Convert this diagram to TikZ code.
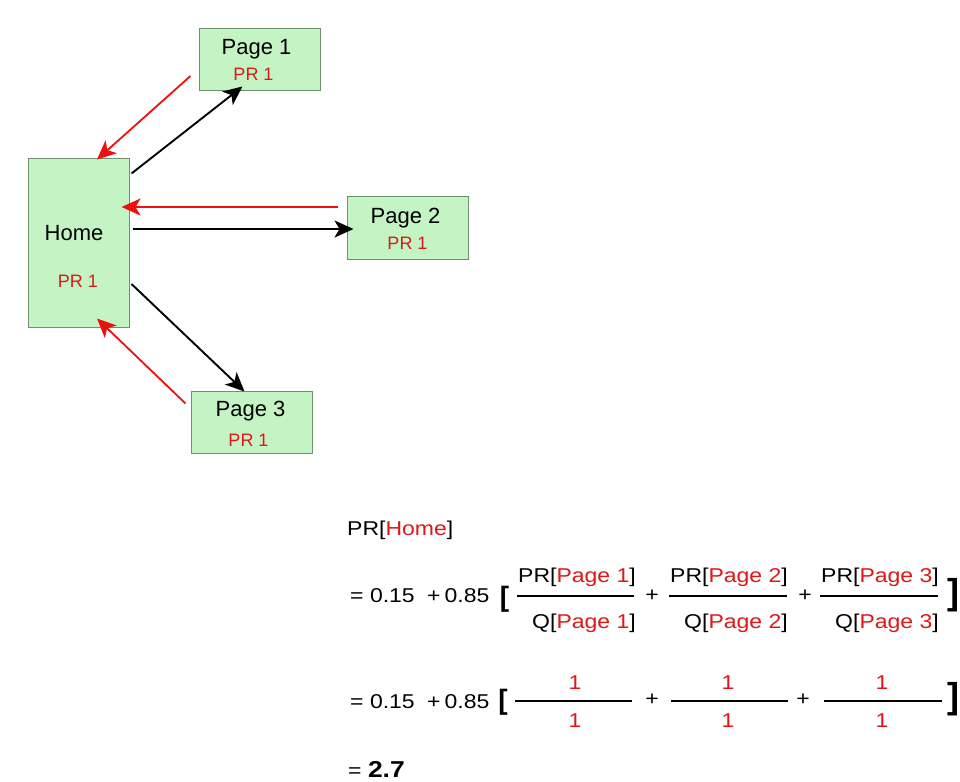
\documentclass[tikz,border=0pt]{standalone}
\usepackage{fontspec}
\setmainfont{Liberation Sans}
\newfontfamily\formfont[FakeStretch=1.15]{Liberation Sans}
\usetikzlibrary{arrows.meta,calc}
\definecolor{boxfill}{RGB}{196,244,196}
\definecolor{boxdraw}{RGB}{112,144,112}
\definecolor{prred}{RGB}{222,24,24}
\definecolor{arrred}{RGB}{238,16,16}
\begin{document}
\begin{tikzpicture}[x=1pt,y=-1pt,
  pagebox/.style={draw=boxdraw, fill=boxfill, line width=1pt, inner sep=0pt},
  lbl/.style={font=\fontsize{22}{26}\selectfont, inner sep=0pt, anchor=base},
  prlbl/.style={font=\fontsize{18}{21}\selectfont, text=prred, inner sep=0pt, anchor=base},
  blkarrow/.style={line width=1.9pt, black, -{Stealth[length=19pt,width=17pt,inset=5pt]}},
  redarrow/.style={line width=1.8pt, arrred, -{Stealth[length=19pt,width=17pt,inset=5pt]}},
  ftxt/.style={font=\formfont\fontsize{20}{24}\selectfont, inner sep=0pt},
  lbrk/.style={font=\bfseries\fontsize{28}{30}\selectfont, inner sep=0pt},
  rbrk/.style={font=\bfseries\fontsize{36}{38}\selectfont, inner sep=0pt},
  fbar/.style={line width=1.6pt, black},
]
\fill[white] (0,0) rectangle (960,781);
\useasboundingbox (0,0) rectangle (960,781);

% boxes
\node[pagebox, minimum width=121pt, minimum height=62pt] (p1) at (259.5,60) {};
\node[pagebox, minimum width=101pt, minimum height=169pt] (home) at (78.5,242.5) {};
\node[pagebox, minimum width=121pt, minimum height=63pt] (p2) at (407.5,227.5) {};
\node[pagebox, minimum width=121pt, minimum height=62pt] (p3) at (251.5,422) {};

% box texts
\node[lbl] (p1t) at (256.5,55) {Page 1};
\node[prlbl] (p1pr) at (253.5,80.7) {PR 1};
\node[lbl] (homet) at (74,240.7) {Home};
\node[prlbl] (homepr) at (78,287) {PR 1};
\node[lbl] (p2t) at (405.5,223) {Page 2};
\node[prlbl] (p2pr) at (407.5,249) {PR 1};
\node[lbl] (p3t) at (250.5,416) {Page 3};
\node[prlbl] (p3pr) at (248.5,446) {PR 1};

% arrows
\draw[redarrow] ($(p1.west)+(-8,16)$) -- ($(home.north)+(18.5,2)$);
\draw[blkarrow] ($(home.north east)+(2,16)$) -- ($(p1.south west)+(44,-5)$);
\draw[redarrow] ($(p2.west)+(-9,-20.5)$) -- ($(home.east)+(-8,-35.5)$);
\draw[blkarrow] ($(home.east)+(3,-13.5)$) -- ($(p2.west)+(7,1.5)$);
\draw[blkarrow] ($(home.east)+(2,41.5)$) -- ($(p3.north west)+(54,1)$);
\draw[redarrow] ($(p3.north west)+(-5,13)$) -- ($(home.south)+(18.5,-9)$);

% formula
\node[ftxt, anchor=base west] (prhome) at (347,535) {PR[\textcolor{prred}{Home}]};

\node[ftxt, anchor=base west] (eqa) at (350,602) {= 0.15\hspace{6pt} +\hspace{4pt}0.85};
\node[lbrk] (lba) at (504.5,599) {[};
\node[ftxt, anchor=base east] (na1) at (636,582) {PR[\textcolor{prred}{Page 1}]};
\node[ftxt, anchor=base east] (da1) at (636,628) {Q[\textcolor{prred}{Page 1}]};
\draw[fbar] (517,596) -- (634,596);
\node[ftxt] (pa1) at (652,596) {+};
\node[ftxt, anchor=base east] (na2) at (788,582) {PR[\textcolor{prred}{Page 2}]};
\node[ftxt, anchor=base east] (da2) at (788,628) {Q[\textcolor{prred}{Page 2}]};
\draw[fbar] (669,596) -- (787,596);
\node[ftxt] (pa2) at (805,596) {+};
\node[ftxt, anchor=base east] (na3) at (939,582) {PR[\textcolor{prred}{Page 3}]};
\node[ftxt, anchor=base east] (da3) at (939,628) {Q[\textcolor{prred}{Page 3}]};
\draw[fbar] (820,596) -- (938,596);
\node[rbrk, anchor=east] (rba) at (960,595) {]};

\node[ftxt, anchor=base west] (eqb) at (350,708) {= 0.15\hspace{6pt} +\hspace{4pt}0.85};
\node[lbrk] (lbb) at (503,702.5) {[};
\node[ftxt, anchor=base, text=prred] (nb1) at (575,689) {1};
\node[ftxt, anchor=base, text=prred] (db1) at (575,727) {1};
\draw[fbar] (515,701) -- (632,701);
\node[ftxt] (pb1) at (652,700) {+};
\node[ftxt, anchor=base, text=prred] (nb2) at (728,689) {1};
\node[ftxt, anchor=base, text=prred] (db2) at (728,727) {1};
\draw[fbar] (671,701) -- (788,701);
\node[ftxt] (pb2) at (803,700) {+};
\node[ftxt, anchor=base, text=prred] (nb3) at (882,689) {1};
\node[ftxt, anchor=base, text=prred] (db3) at (882,727) {1};
\draw[fbar] (824,701) -- (942,701);
\node[rbrk, anchor=east] (rbb) at (960,699.5) {]};

\node[ftxt, anchor=base west] (res) at (348,777) {= {\fontsize{23}{26}\selectfont\bfseries 2.7}};
\end{tikzpicture}
\end{document}
